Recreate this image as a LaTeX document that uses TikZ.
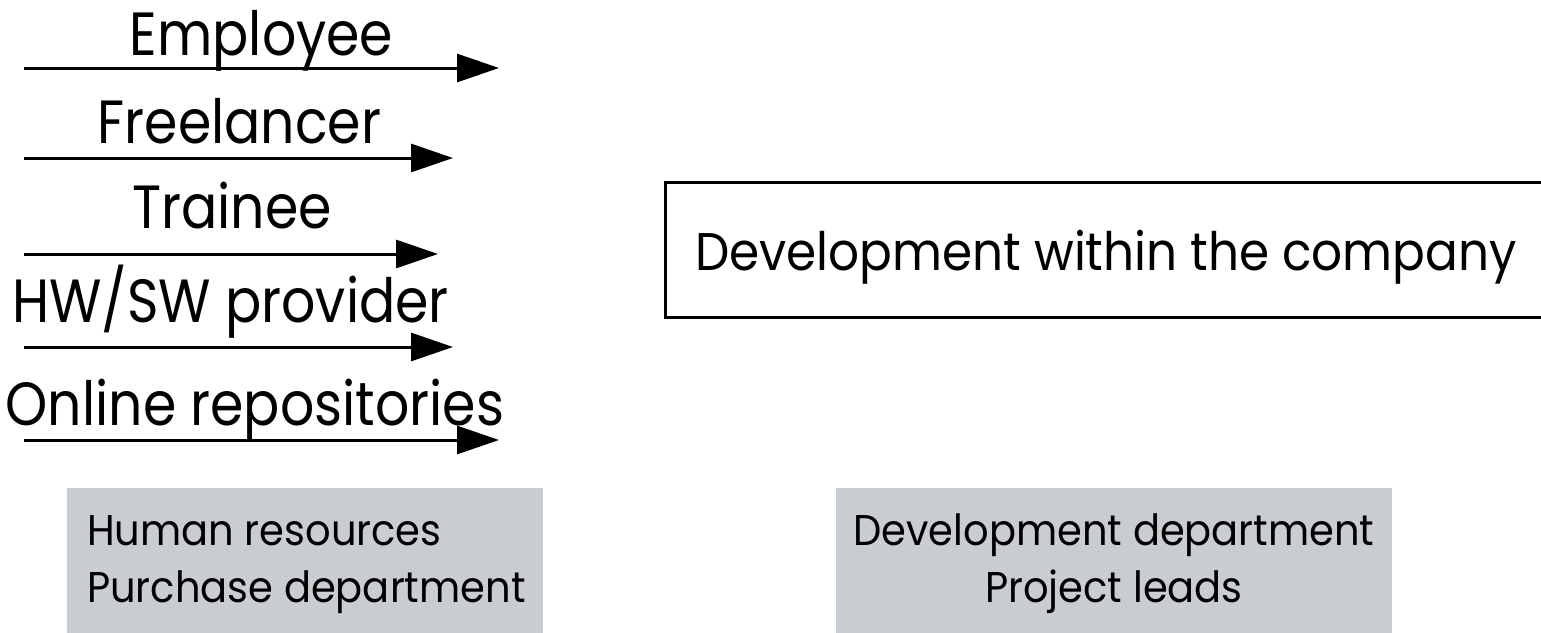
\documentclass[tikz,border=0pt]{standalone}
\usepackage{fontspec}
\setmainfont{Poppins}[FakeStretch=0.88]
\newfontfamily\devfont{Poppins}[FakeStretch=0.915]
\newfontfamily\grayfont{Poppins}[FakeStretch=0.93]
\usetikzlibrary{arrows.meta}
\definecolor{boxgray}{RGB}{201,205,209}
\tikzset{
  flow/.style={line width=3pt,-{Triangle[length=42pt,width=28pt]}},
  lbl/.style={inner sep=0pt,anchor=base,font=\fontsize{61}{70}\selectfont},
  boxtxt/.style={inner sep=0pt,font=\devfont\fontsize{53}{60}\selectfont},
  graybox/.style={fill=boxgray,draw=none,inner sep=0pt,anchor=north west},
  graytxt/.style={inner sep=0pt,font=\grayfont\fontsize{43}{57}\selectfont},
}
\begin{document}
\begin{tikzpicture}[x=1pt,y=-1pt]
\useasboundingbox (0,0) rectangle (1541,632);
\clip (0,0) rectangle (1541,632);
% arrows
\coordinate (s1) at (24,68);  \coordinate (e1) at (499,68);
\coordinate (s2) at (24,158); \coordinate (e2) at (453,158);
\coordinate (s3) at (24,254); \coordinate (e3) at (438,254);
\coordinate (s4) at (24,347); \coordinate (e4) at (453,347);
\coordinate (s5) at (24,440); \coordinate (e5) at (499,440);
\draw[flow] (s1) -- (e1);
\draw[flow] (s2) -- (e2);
\draw[flow] (s3) -- (e3);
\draw[flow] (s4) -- (e4);
\draw[flow] (s5) -- (e5);
\node[lbl] (emp) at (261.5,55) {Employee};
\node[lbl] (free) at (239.5,143) {Freelancer};
\node[lbl] (train) at (232,228) {Trainee};
\node[lbl] (hwsw) at (230.5,322) {HW/SW provider};
\node[lbl] (online) at (255,425) {Online repositories};
% development box
\draw[line width=3pt] (1600,182) -- (665,182) -- (665,317) -- (1600,317);
\node[boxtxt,anchor=base west] (dev) at (695,270) {Development within the company};
% gray boxes
\node[graybox,minimum width=476pt,minimum height=160pt] (hrbox) at (67,488) {};
\node[graybox,minimum width=556pt,minimum height=160pt] (ddbox) at (836,488) {};
\node[graytxt,anchor=base west] (hr1) at (87,545) {Human resources};
\node[graytxt,anchor=base west] (hr2) at (87,602) {Purchase department};
\node[graytxt,anchor=base] (dd1) at (1114,545) {Development department};
\node[graytxt,anchor=base] (dd2) at (1114,602) {Project leads};
\end{tikzpicture}
\end{document}
